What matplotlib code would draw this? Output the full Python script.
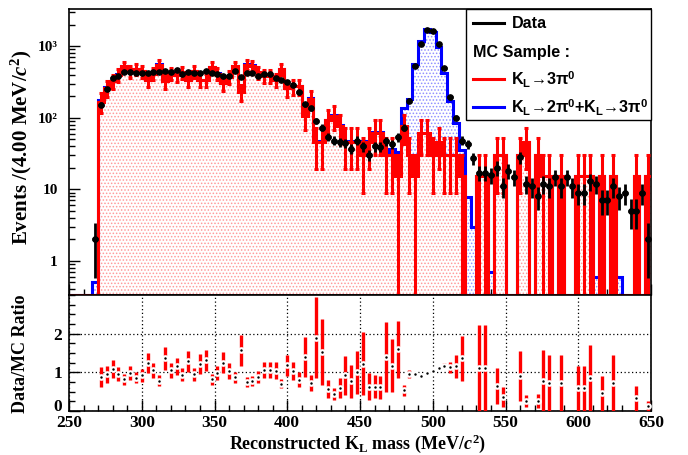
import numpy as np
import matplotlib
matplotlib.use("Agg")
import matplotlib.pyplot as plt
from matplotlib.patches import Rectangle
from matplotlib.lines import Line2D
from matplotlib.ticker import FixedLocator, MultipleLocator, LogLocator, NullFormatter

plt.rcParams['mathtext.fontset'] = 'custom'
plt.rcParams['mathtext.rm'] = 'Liberation Sans:bold'
plt.rcParams['mathtext.bf'] = 'Liberation Sans:bold'
plt.rcParams['mathtext.sf'] = 'Liberation Serif:bold'
plt.rcParams['mathtext.it'] = 'Liberation Serif:italic:bold'
plt.rcParams['hatch.linewidth'] = 0.7

# 4 MeV bins from 250 to 650 MeV
edges = np.arange(250, 654, 4)
centers = edges[:-1] + 2

# data events per bin
data = np.array([
    0, 0, 0, 0, 2, 152, 252, 355, 387, 430,
    438, 415, 415, 425, 438, 438, 445, 438, 465, 408,
    438, 425, 415, 445, 420, 408, 387, 387, 455, 366,
    415, 415, 380, 408, 408, 355, 340, 311, 288, 226,
    155, 135, 91, 73, 54, 48, 46, 44, 37, 48,
    40, 30, 40, 39, 47, 43, 53, 73, 173, 535,
    1070, 1700, 1650, 1070, 495, 192, 99, 48, 43, 27,
    17, 17, 16, 20, 11, 18, 15, 28, 12, 11,
    8, 12, 11, 15, 11, 15, 11, 9, 9, 13,
    12, 7, 7, 11, 8, 9, 5, 5, 9, 2,
])

# K_L -> 3pi0 MC: raw entries per bin and the weight of one entry
mc3pi_entries = np.array([
    0, 0, 0, 0, 0, 11, 17, 21, 26, 34,
    29, 31, 29, 22, 27, 36, 21, 27, 26, 28,
    22, 29, 22, 22, 33, 27, 20, 24, 34, 15,
    36, 35, 28, 25, 25, 22, 31, 17, 18, 18,
    7, 12, 3, 3, 6, 7, 5, 3, 3, 3,
    2, 3, 4, 4, 2, 2, 1, 5, 2, 1,
    4, 4, 2, 3, 2, 2, 2, 1, 0, 0,
    1, 1, 0, 2, 2, 0, 0, 2, 3, 0,
    2, 1, 1, 0, 1, 0, 0, 1, 1, 1,
    0, 1, 0, 1, 0, 0, 0, 1, 0, 1,
])
mc3pi_weight = 15.3

# K_L -> 2pi0 MC contribution (stacked on top of 3pi0)
mc2pi = np.array([
    0, 0, 0, 0, 0.5, 6, 6, 5, 5, 5,
    5, 5, 5, 5, 5, 5, 5, 5, 5, 5,
    4, 4, 4, 4, 4, 4, 4, 4, 4, 4,
    4, 4, 4, 4, 4, 4, 4, 4, 3, 3,
    3, 3, 2, 2, 2, 2, 2, 2, 2, 2,
    2, 2, 2, 2, 3, 6, 18, 61, 150, 542,
    1129, 1689, 1559, 918, 392, 139, 55, 20, 7.7, 3,
    0, 0, 0.7, 0, 0, 0, 0, 0, 0, 0,
    0, 0, 0, 0, 0, 0, 0, 0, 0, 0,
    0.6, 0, 0, 0, 0.6, 0, 0, 0, 0, 0,
])

mc3pi = mc3pi_entries * mc3pi_weight
mc3pi_err = np.sqrt(mc3pi_entries) * mc3pi_weight
mc_total = mc3pi + mc2pi

YMIN, YMAX = 0.334, 3300

fig = plt.figure(figsize=(6.88, 4.55), dpi=100)


def fx(x):
    return x / 688


def fy(y):
    return 1 - y / 455


ax = fig.add_axes([fx(69), fy(295), fx(651) - fx(69), fy(9) - fy(295)])
axr = fig.add_axes([fx(69), fy(411), fx(651) - fx(69), fy(295) - fy(411)])

serif = dict(family='Liberation Serif', weight='bold')

# ---- main panel ----
ax.set_yscale('log')
floor_total = np.where(mc_total > 0, mc_total, YMIN)
floor_3pi = np.where(mc3pi > 0, mc3pi, YMIN)

ax.stairs(floor_total, edges, baseline=YMIN, fill=True, facecolor='white',
          edgecolor='#8f8fff', hatch='.....', lw=0, zorder=1)
ax.stairs(floor_3pi, edges, baseline=YMIN, fill=True, facecolor='white',
          edgecolor='#ff9a9a', hatch='.....', lw=0, zorder=2)
ax.stairs(floor_total, edges, baseline=None, color='blue', lw=2.2, zorder=3)
ax.stairs(floor_3pi, edges, baseline=None, color='red', lw=2.2, zorder=4)

has_mc = mc3pi_entries > 0
ax.errorbar(centers[has_mc], mc3pi[has_mc], yerr=mc3pi_err[has_mc], fmt='none',
            ecolor='red', elinewidth=2.2, capsize=1.6, capthick=2.2, zorder=5)

has_data = data > 0
ax.errorbar(centers[has_data], data[has_data], yerr=np.sqrt(data[has_data]), xerr=2,
            fmt='o', color='black', ms=3.8, elinewidth=2.0, capsize=0, zorder=6)

ax.set_xlim(250, 650)
ax.set_ylim(YMIN, YMAX)
ax.yaxis.set_major_locator(FixedLocator([1, 10, 100, 1000]))
ax.set_yticklabels(['1', '10', '10²', '10³'], fontsize=11, **serif)
ax.yaxis.set_minor_locator(LogLocator(base=10, subs=np.arange(2, 10)))
ax.yaxis.set_minor_formatter(NullFormatter())
ax.xaxis.set_major_locator(MultipleLocator(50))
ax.xaxis.set_minor_locator(MultipleLocator(10))
ax.tick_params(axis='x', labelbottom=False)
ax.tick_params(which='major', direction='in', length=8, width=1.0, pad=8)
ax.tick_params(which='minor', direction='in', length=4.5, width=1.0)
for s in ax.spines.values():
    s.set_linewidth(1.2)

# legend box in the top right corner
legend_box = Rectangle((fx(466), fy(120)), fx(651) - fx(466), fy(9) - fy(120),
                       transform=fig.transFigure, facecolor='white',
                       edgecolor='black', lw=1.0, zorder=10)
fig.add_artist(legend_box)
sans = dict(family=['Liberation Sans', 'DejaVu Sans'], weight='bold', fontsize=11.6,
            va='center', zorder=11)
for ypix, col in [(23, 'black'), (79, 'red'), (107, 'blue')]:
    fig.add_artist(Line2D([fx(473), fx(504)], [fy(ypix), fy(ypix)],
                          transform=fig.transFigure, color=col, lw=2.2, zorder=11))
fig.text(fx(512), fy(23), 'Data', **sans)
fig.text(fx(473), fy(52), 'MC Sample :', **sans)
fig.text(fx(511), fy(80), r'K$_\mathrm{L}$→3π$^\mathrm{0}$', **sans)
fig.text(fx(511), fy(108),
         r'K$_\mathrm{L}$→2π$^\mathrm{0}$+K$_\mathrm{L}$→3π$^\mathrm{0}$', **sans)

# ---- ratio panel ----
ok = (mc_total > 0) & (data > 0)
ratio = data[ok] / mc_total[ok]
ratio_err = ratio * np.sqrt(mc3pi_entries[ok]) * mc3pi_weight / mc_total[ok]

axr.set_xlim(250, 650)
axr.set_ylim(0, 3.0)
axr.grid(True, which='major', color='black', ls=(0, (1, 2)), lw=0.9)
axr.set_axisbelow(True)
axr.errorbar(centers[ok], ratio, yerr=ratio_err, fmt='none', ecolor='red',
             elinewidth=2.4, capsize=0, zorder=3)
axr.plot(centers[ok], ratio, 'o', ms=3.3, mfc='black', mec='white', mew=1.5,
         zorder=4, clip_on=True)

axr.set_xticks(np.arange(250, 651, 50))
axr.set_xticklabels([str(v) for v in range(250, 651, 50)], fontsize=12.5, **serif)
axr.xaxis.set_minor_locator(MultipleLocator(10))
axr.set_yticks([0, 1, 2])
axr.set_yticklabels(['0', '1', '2'], fontsize=12.5, **serif)
axr.yaxis.set_minor_locator(MultipleLocator(0.25))
axr.tick_params(which='major', direction='in', length=8, width=1.0)
axr.tick_params(which='minor', direction='in', length=4.5, width=1.0)
axr.tick_params(axis='x', pad=3)
axr.tick_params(axis='y', pad=5)
# keep the "0" clear of the "250" below it
axr.yaxis.get_major_ticks()[0].label1.set_va('baseline')
for s in axr.spines.values():
    s.set_linewidth(1.2)

# axis titles
fig.text(fx(21), fy(147), r'Events /(4.00 MeV/$\mathit{c}^\mathsf{2}$)', rotation=90,
         ha='center', va='center', fontsize=15, **serif)
fig.text(fx(21), fy(354), 'Data/MC Ratio', rotation=90,
         ha='center', va='center', fontsize=13, **serif)
fig.text(fx(358), fy(444), r'Reconstructed K$_\mathsf{L}$ mass (MeV/$\mathit{c}^\mathsf{2}$)',
         ha='center', va='center', fontsize=13, **serif)

fig.savefig('out.png', dpi=100)
